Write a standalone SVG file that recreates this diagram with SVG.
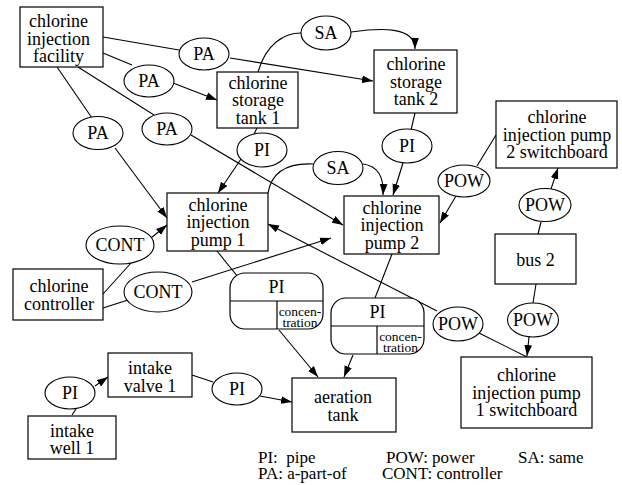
<svg xmlns="http://www.w3.org/2000/svg" width="622" height="485" viewBox="0 0 622 485" font-family="Liberation Serif">
<style>
text{font-family:"Liberation Serif","Times New Roman",serif;fill:#000;text-anchor:middle}
.t{font-size:18px}
.s{font-size:13.5px}
.lg{font-size:17px;text-anchor:start;white-space:pre}
.b{fill:#fff;stroke:#000;stroke-width:1.2}
.e{fill:#fff;stroke:#000;stroke-width:1.1}
.c path{fill:none;stroke:#000;stroke-width:1.1}
.a{marker-end:url(#ah)}
</style>
<defs>
<marker id="ah" viewBox="0 0 10 7" refX="10" refY="3.5" markerWidth="11" markerHeight="8" markerUnits="userSpaceOnUse" orient="auto">
<path d="M0,0 L10,3.5 L0,7 z" fill="#000"/>
</marker>
</defs>
<rect width="622" height="485" fill="#fff"/>
<g id="connectors" class="c">
<path d="M103,37 L179,50"/>
<path class="a" d="M230,58 L373,81"/>
<path d="M103,53 L132,65"/>
<path class="a" d="M173,83 L217,100"/>
<path d="M57,67 L92,118"/>
<path class="a" d="M115,148 L167,218"/>
<path d="M78,67 L154,115"/>
<path class="a" d="M191,135 L343,225"/>
<path d="M258,72 C266,44 284,33 301,33"/>
<path class="a" d="M351,32 C380,28 415,26 415,49"/>
<path d="M257,128 L254,134"/>
<path class="a" d="M241,159 L218,193"/>
<path d="M415,113 L411,130"/>
<path class="a" d="M403,163 L393,195"/>
<path d="M268,193 C272,170 290,163 313,164"/>
<path class="a" d="M363,164 C378,166 384,178 383,195"/>
<path d="M496,135 L477,166"/>
<path class="a" d="M456,196 L440,223"/>
<path d="M538,234 L541,222"/>
<path class="a" d="M551,189 L558,168"/>
<path d="M536,284 L533,303"/>
<path class="a" d="M529,337 L527,356"/>
<path d="M527,357 L479,333"/>
<path class="a" d="M437,311 L268,224"/>
<path d="M103,294 L131,263"/>
<path class="a" d="M151,238 L167,225"/>
<path d="M103,308 L128,300"/>
<path class="a" d="M192,282 L331,238"/>
<path d="M217,251 L238,277"/>
<path class="a" d="M279,330 L318,377"/>
<path d="M392,254 L375,298"/>
<path class="a" d="M353,355 L344,377"/>
<path d="M72,415 L78,406"/>
<path class="a" d="M95,386 L108,377"/>
<path d="M192,375 L213,382"/>
<path class="a" d="M260,396 L292,402"/>
</g>
<g id="facility"><rect class="b" x="20" y="7" width="83" height="60"/><text class="t" x="58.5" y="27">chlorine</text><text class="t" x="58.5" y="44.5">injection</text><text class="t" x="58.5" y="62">facility</text></g>
<g id="tank1"><rect class="b" x="217" y="72" width="81" height="56"/><text class="t" x="258" y="88.5">chlorine</text><text class="t" x="258" y="106">storage</text><text class="t" x="258" y="123.5">tank 1</text></g>
<g id="tank2"><rect class="b" x="374" y="50" width="83" height="63"/><text class="t" x="416" y="70">chlorine</text><text class="t" x="416" y="87.5">storage</text><text class="t" x="416" y="105">tank 2</text></g>
<g id="sw2"><rect class="b" x="496" y="101" width="121" height="67"/><text class="t" x="557" y="123">chlorine</text><text class="t" x="557" y="140.5">injection pump</text><text class="t" x="557" y="158">2 switchboard</text></g>
<g id="pump1"><rect class="b" x="167" y="193" width="101" height="58"/><text class="t" x="218" y="210.5">chlorine</text><text class="t" x="218" y="228">injection</text><text class="t" x="218" y="245.5">pump 1</text></g>
<g id="pump2"><rect class="b" x="344" y="196" width="95" height="58"/><text class="t" x="392" y="213.5">chlorine</text><text class="t" x="392" y="231">injection</text><text class="t" x="392" y="248.5">pump 2</text></g>
<g id="bus2"><rect class="b" x="495" y="234" width="81" height="50"/><text class="t" x="535.5" y="265.5">bus 2</text></g>
<g id="controller"><rect class="b" x="13" y="269" width="90" height="51"/><text class="t" x="59" y="292">chlorine</text><text class="t" x="59" y="309.5">controller</text></g>
<g id="valve1"><rect class="b" x="108" y="353" width="84" height="44"/><text class="t" x="150" y="374">intake</text><text class="t" x="150" y="391.5">valve 1</text></g>
<g id="well1"><rect class="b" x="28" y="416" width="88" height="43"/><text class="t" x="72" y="436.5">intake</text><text class="t" x="72" y="454">well 1</text></g>
<g id="aeration"><rect class="b" x="292" y="378" width="104" height="54"/><text class="t" x="343" y="403">aeration</text><text class="t" x="343" y="420.5">tank</text></g>
<g id="sw1"><rect class="b" x="461" y="357" width="131" height="71"/><text class="t" x="526.5" y="381">chlorine</text><text class="t" x="526.5" y="398.5">injection pump</text><text class="t" x="526.5" y="416">1 switchboard</text></g>
<g id="rec1"><rect class="b" x="230" y="273" width="93" height="56" rx="15"/><path d="M230,301 H323 M277,301 V329" stroke="#000" stroke-width="1.2" fill="none"/><text class="t" x="276.5" y="293">PI</text><text class="s" x="300" y="315.5">concen-</text><text class="s" x="300" y="326.5">tration</text></g>
<g id="rec2"><rect class="b" x="331" y="298" width="93" height="56" rx="15"/><path d="M331,326 H424 M377,326 V354" stroke="#000" stroke-width="1.2" fill="none"/><text class="t" x="377.5" y="318">PI</text><text class="s" x="400.5" y="340.5">concen-</text><text class="s" x="400.5" y="351.5">tration</text></g>
<g id="pa1"><ellipse class="e" cx="204" cy="54" rx="25" ry="16"/><text class="t" x="204" y="60">PA</text></g>
<g id="pa2"><ellipse class="e" cx="149" cy="81" rx="25" ry="16"/><text class="t" x="149" y="87">PA</text></g>
<g id="pa3"><ellipse class="e" cx="98" cy="133" rx="25" ry="16.5"/><text class="t" x="98" y="139">PA</text></g>
<g id="pa4"><ellipse class="e" cx="167" cy="129" rx="25" ry="16"/><text class="t" x="167" y="135">PA</text></g>
<g id="sa1"><ellipse class="e" cx="326" cy="33" rx="25" ry="17"/><text class="t" x="326" y="39">SA</text></g>
<g id="pi1"><ellipse class="e" cx="262" cy="150" rx="25" ry="17"/><text class="t" x="262" y="156">PI</text></g>
<g id="pi2"><ellipse class="e" cx="407" cy="146" rx="25" ry="17"/><text class="t" x="407" y="152">PI</text></g>
<g id="sa2"><ellipse class="e" cx="338" cy="168" rx="25" ry="16.5"/><text class="t" x="338" y="174">SA</text></g>
<g id="pow1"><ellipse class="e" cx="464" cy="181" rx="26" ry="16"/><text class="t" x="464" y="187">POW</text></g>
<g id="pow2"><ellipse class="e" cx="545" cy="205" rx="26" ry="16.5"/><text class="t" x="545" y="211">POW</text></g>
<g id="pow3"><ellipse class="e" cx="533" cy="320" rx="25.5" ry="17"/><text class="t" x="533" y="326">POW</text></g>
<g id="pow4"><ellipse class="e" cx="458" cy="324" rx="25" ry="17"/><text class="t" x="458" y="330">POW</text></g>
<g id="cont1"><ellipse class="e" cx="120" cy="245" rx="34" ry="19"/><text class="t" x="120" y="251">CONT</text></g>
<g id="cont2"><ellipse class="e" cx="158" cy="292" rx="34" ry="20"/><text class="t" x="158" y="298">CONT</text></g>
<g id="pi3"><ellipse class="e" cx="70" cy="393" rx="25" ry="16"/><text class="t" x="70" y="399">PI</text></g>
<g id="pi4"><ellipse class="e" cx="237" cy="389" rx="25" ry="16"/><text class="t" x="237" y="395">PI</text></g>
<g id="legend">
<text class="lg" x="258" y="463">PI:  pipe</text>
<text class="lg" x="258" y="479">PA: a-part-of</text>
<text class="lg" x="386" y="463">POW: power</text>
<text class="lg" x="382" y="479">CONT: controller</text>
<text class="lg" x="518" y="463">SA: same</text>
</g>
</svg>
